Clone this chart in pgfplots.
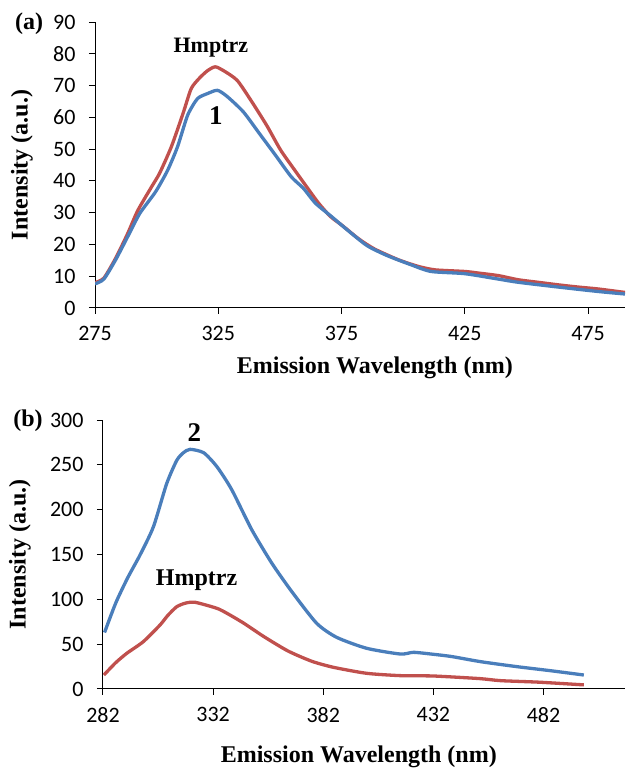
\documentclass[border=0pt]{standalone}
\usepackage{pgfplots}
\pgfplotsset{compat=1.18}
\usepackage{fontspec}
\setmainfont{Liberation Serif}
\newfontfamily\calib{Carlito}
\definecolor{exred}{RGB}{192,80,77}
\definecolor{exblue}{RGB}{74,126,187}

\pgfplotsset{
  exstyle/.style={
    scale only axis, anchor=south west,
    axis x line*=bottom, axis y line*=left,
    axis line style={black, line width=1pt, -},
    tick align=outside, major tick length=6pt,
    tick style={black, line width=1pt},
    ticklabel style={font=\calib\fontsize{22}{22}\selectfont},
    xticklabel style={yshift=-9pt},
    yticklabel style={xshift=-10pt},
    /pgf/number format/assume math mode=true,
    /pgf/number format/1000 sep={},
    label style={font=\bfseries\fontsize{24}{24}\selectfont},
    ymin=0, clip=true,
    every axis plot/.append style={line width=3.3pt, no marks, smooth, tension=0.4, line join=round},
  },
}

% panel (a)
\pgfplotstableread{
x y
275 8.0
278.6 9.4
283.4 15.7
288.3 23.5
292.3 30.6
298 38.2
301.2 42.4
306 50.8
310.7 61.2
314 69
317.2 72.2
320.5 74.6
323.7 75.9
326.9 74.8
332.6 71.7
338.2 65.4
344.7 57.4
350.3 49.7
356 43.4
360.8 38.2
365.7 33
370.5 28.8
375.4 25.9
381.9 21.8
388.3 18.6
398 15.2
406.1 13.1
413 12
425 11.5
430.5 11
438.6 10.2
446.6 8.9
454.7 8.1
462.8 7.3
470.9 6.6
479 6
490 4.9
}\aRed
\pgfplotstableread{
x y
275 7.6
278.6 9.1
283.4 15.2
288.3 22.5
293.2 29.8
299.6 36.6
304.5 43.4
308.5 50.8
312.6 60.7
316.6 65.9
320.7 67.5
324.7 68.5
328.7 66.5
335.2 61.7
341.7 54.9
348.2 48.1
354.6 41.3
359.5 37.7
364.4 33
370.9 28.8
377.3 24.6
385.4 19.6
393.5 16.5
403.2 13.6
411.3 11.5
425 10.8
438.6 9.1
446.6 8.1
462.8 6.6
479 5.2
490 4.4
}\aBlue

% panel (b)
\pgfplotstableread{
x y
282.7 63
287.8 96
293.2 124
298.8 149.4
304.9 181
310.9 229
315.5 255
318.5 263.5
321.5 267.3
327.7 263.5
333.7 248
340.4 222.5
349.5 177.8
358.6 140.5
367.6 109
379 73.3
388.1 57.6
401.7 45.4
417 39
423 40.9
432 38.7
440.3 36.2
453.4 30.5
470 24.9
485.2 20.4
500.3 15.6
}\bBlue
\pgfplotstableread{
x y
282.4 15.6
287.8 29.4
292.8 39.8
300.3 52.8
307.9 71.4
311.4 82
315.5 91.8
319.5 95.8
323.8 96.7
333.7 90
338.6 84
345.9 73.4
355 58.5
365.9 42.5
376.7 31
386.6 24.2
401.7 17.5
417 14.9
432 14.5
453 11.6
462.5 9.3
480 7.6
500.3 4.6
}\bRed

\begin{document}
\begin{tikzpicture}
\useasboundingbox (0,0) rectangle (625pt,768pt);

\begin{axis}[exstyle,
  at={(95pt,460pt)}, width=530pt, height=286pt,
  xmin=275, xmax=490, ymax=90,
  xtick={275,325,...,475}, ytick={0,10,...,90},
  xlabel={Emission Wavelength (nm)},
  ylabel={Intensity (a.u.)},
  xlabel style={at={(axis description cs:0.528,0)}, anchor=center, yshift=-60pt},
  ylabel style={at={(axis description cs:-0.138,0.5)}, anchor=center},
]
\addplot[exred] table {\aRed};
\addplot[exblue] table {\aBlue};
\node[font=\bfseries\fontsize{22}{22}\selectfont] at (axis cs:322,82) {Hmptrz};
\node[font=\bfseries\fontsize{27}{27}\selectfont] at (axis cs:324,60.5) {1};
\end{axis}
\node[font=\bfseries\fontsize{24}{24}\selectfont] at (29pt,744pt) {(a)};

\begin{axis}[exstyle,
  at={(103pt,79pt)}, width=522pt, height=269pt,
  xmin=282, xmax=519, ymax=300,
  xtick={282,332,...,482}, ytick={0,50,...,300},
  xlabel={Emission Wavelength (nm)},
  ylabel={Intensity (a.u.)},
  xlabel style={at={(axis description cs:0.49,0)}, anchor=center, yshift=-68pt},
  ylabel style={at={(axis description cs:-0.159,0.5)}, anchor=center},
]
\addplot[exred] table {\bRed};
\addplot[exblue] table {\bBlue};
\node[font=\bfseries\fontsize{27}{27}\selectfont] at (axis cs:323.5,286) {2};
\node[font=\bfseries\fontsize{24}{24}\selectfont] at (axis cs:324.5,121.5) {Hmptrz};
\end{axis}
\node[font=\bfseries\fontsize{24}{24}\selectfont] at (28pt,347pt) {(b)};
\end{tikzpicture}
\end{document}
